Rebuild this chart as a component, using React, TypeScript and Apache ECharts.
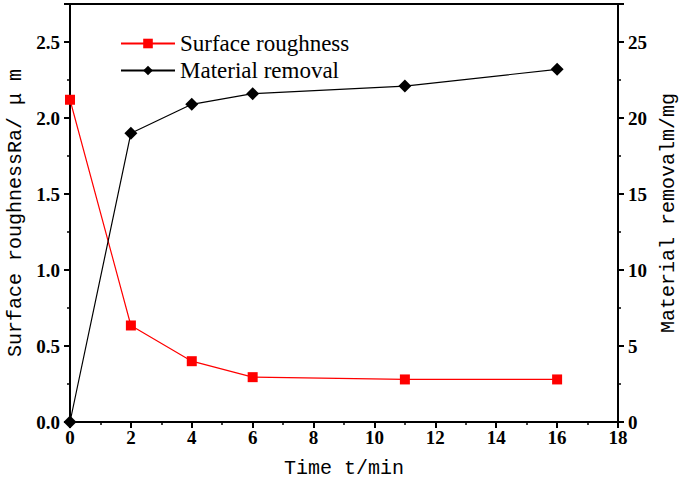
import React, { useEffect, useRef } from "react";
import * as echarts from "echarts";

const timeMin = [0, 2, 4, 6, 11, 16];
const roughness = [2.12, 0.635, 0.4, 0.295, 0.28, 0.28];
const removal = [0, 19.0, 20.9, 21.6, 22.1, 23.2];

const tickFont = { fontFamily: "Liberation Serif", fontWeight: "bold" as const, fontSize: 19, color: "#000" };
const titleFont = { fontFamily: "Liberation Mono", fontSize: 20, color: "#000" };

export default function App() {
  const ref = useRef<HTMLDivElement>(null);
  useEffect(() => {
    const chart = echarts.init(ref.current!, null, { renderer: "svg" });
    const axisLine = { show: true, onZero: false, lineStyle: { color: "#000", width: 2 } };
    chart.setOption({
      animation: false,
      backgroundColor: "#fff",
      grid: { left: 70, right: 67, top: 4, bottom: 58, show: false, outerBoundsMode: "none", containLabel: false },
      legend: {
        left: 115,
        top: 27,
        orient: "vertical",
        itemWidth: 54,
        itemHeight: 12,
        itemGap: 4,
        textStyle: { fontFamily: "Liberation Serif", fontSize: 23, color: "#000" },
        data: ["Surface roughness", "Material removal"],
      },
      xAxis: {
        type: "value",
        min: 0,
        max: 18,
        interval: 2,
        name: "Time t/min",
        nameLocation: "middle",
        nameGap: 36,
        nameTextStyle: titleFont,
        axisLine,
        axisTick: { show: true, inside: false, length: 6, lineStyle: { color: "#000", width: 2 } },
        minorTick: { show: true, splitNumber: 2, length: 3, lineStyle: { color: "#000", width: 1.5 } },
        axisLabel: { ...tickFont, margin: 6 },
        splitLine: { show: false },
      },
      yAxis: [
        {
          type: "value",
          min: 0,
          max: 2.75,
          interval: 0.5,
          position: "left",
          name: "Surface roughnessRa/ μ m",
          nameLocation: "middle",
          nameGap: 44,
          nameTextStyle: titleFont,
          axisLine,
          axisTick: { show: true, length: 6, lineStyle: { color: "#000", width: 2 } },
          minorTick: { show: true, splitNumber: 2, length: 3, lineStyle: { color: "#000", width: 1.5 } },
          axisLabel: { ...tickFont, margin: 10, showMaxLabel: false, formatter: (v: number) => v.toFixed(1) },
          splitLine: { show: false },
        },
        {
          type: "value",
          min: 0,
          max: 27.5,
          interval: 5,
          position: "right",
          name: "Material removalm/mg",
          nameLocation: "middle",
          nameGap: 40,
          nameTextStyle: titleFont,
          axisLine,
          axisTick: { show: true, length: 6, lineStyle: { color: "#000", width: 2 } },
          minorTick: { show: true, splitNumber: 2, length: 3, lineStyle: { color: "#000", width: 1.5 } },
          axisLabel: { ...tickFont, margin: 10, showMaxLabel: false },
          splitLine: { show: false },
        },
      ],
      series: [
        {
          name: "Surface roughness",
          type: "line",
          yAxisIndex: 0,
          data: timeMin.map((t, i) => [t, roughness[i]]),
          symbol: "rect",
          symbolSize: 10,
          itemStyle: { color: "#ff0000" },
          lineStyle: { color: "#ff0000", width: 1.2 },
          z: 3,
        },
        {
          name: "Material removal",
          type: "line",
          yAxisIndex: 1,
          data: timeMin.map((t, i) => [t, removal[i]]),
          symbol: "diamond",
          symbolSize: 13,
          itemStyle: { color: "#000" },
          lineStyle: { color: "#000", width: 1.2 },
          z: 3,
        },
      ],
      graphic: [
        {
          type: "line",
          shape: { x1: 70, y1: 4, x2: 618, y2: 4 },
          style: { stroke: "#000", lineWidth: 2 },
        },
      ],
    });
    return () => chart.dispose();
  }, []);
  return <div ref={ref} style={{ width: 685, height: 480, position: "absolute", left: 0, top: 0 }} />;
}
